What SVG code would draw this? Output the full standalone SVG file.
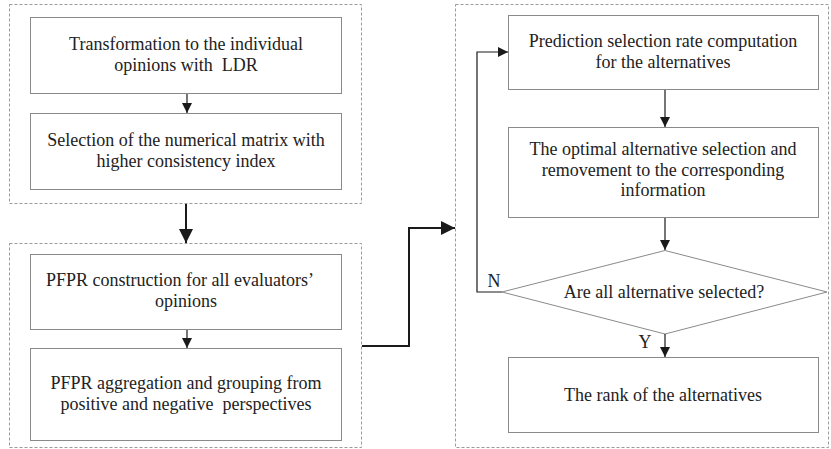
<svg xmlns="http://www.w3.org/2000/svg" width="831" height="449" viewBox="0 0 831 449">
<defs>
<marker id="a" viewBox="0 0 10 10" refX="10" refY="5" markerWidth="10" markerHeight="10" markerUnits="userSpaceOnUse" orient="auto"><path d="M0,0 L10,5 L0,10 z" fill="#1a1a1a"/></marker>
<marker id="b" viewBox="0 0 10 10" refX="10" refY="5" markerWidth="14" markerHeight="14" markerUnits="userSpaceOnUse" orient="auto"><path d="M0,0 L10,5 L0,10 z" fill="#1a1a1a"/></marker>
<style>
.c{fill:none;stroke:#9a9a9a;stroke-width:1;stroke-dasharray:3,2}
.n{fill:#fff;stroke:#8a8a8a;stroke-width:1}
.l{fill:none;stroke:#1a1a1a;stroke-width:1.2}
.k{fill:none;stroke:#1a1a1a;stroke-width:2}
</style>
</defs>
<rect width="831" height="449" fill="#fff"/>
<g id="containers">
<rect class="c" x="9.5" y="4.5" width="352" height="199"/>
<rect class="c" x="9.5" y="243.5" width="352" height="204"/>
<rect class="c" x="455.5" y="4.5" width="373" height="443"/>
</g>
<g font-family="Liberation Serif" font-size="18" fill="#222" text-anchor="middle">
<g id="n1"><rect class="n" x="30.5" y="17.5" width="311" height="76"/>
<text x="186" y="49.5">Transformation to the individual</text><text x="186" y="70.5" xml:space="preserve">opinions with  LDR</text></g>
<g id="n2"><rect class="n" x="30.5" y="113.5" width="311" height="76"/>
<text x="186" y="145.5">Selection of the numerical matrix with</text><text x="186" y="166.5">higher consistency index</text></g>
<g id="n3"><rect class="n" x="30.5" y="254.5" width="311" height="75"/>
<text x="180" y="286">PFPR construction for all evaluators’</text><text x="186" y="307">opinions</text></g>
<g id="n4"><rect class="n" x="30.5" y="348.5" width="311" height="92"/>
<text x="186" y="388.5">PFPR aggregation and grouping from</text><text x="186" y="409.5" xml:space="preserve">positive and negative  perspectives</text></g>
<g id="n5"><rect class="n" x="508.5" y="15.5" width="310" height="74"/>
<text x="663" y="46.5">Prediction selection rate computation</text><text x="663" y="67.5">for the alternatives</text></g>
<g id="n6"><rect class="n" x="508.5" y="127.5" width="310" height="90"/>
<text x="663" y="155">The optimal alternative selection and</text><text x="663" y="175.5">removement to the corresponding</text><text x="663" y="196">information</text></g>
<g id="n7"><path class="n" d="M665,250.5 L827,292 L665,334 L502,292 Z"/>
<text x="664" y="298">Are all alternative selected?</text></g>
<g id="n8"><rect class="n" x="508.5" y="357.5" width="310" height="75"/>
<text x="663" y="401">The rank of the alternatives</text></g>
</g>
<g id="connectors">
<line class="l" x1="187" y1="94" x2="187" y2="113" marker-end="url(#a)"/>
<line class="l" x1="187" y1="330" x2="187" y2="348" marker-end="url(#a)"/>
<line class="k" x1="186" y1="204" x2="186" y2="243" marker-end="url(#b)"/>
<polyline class="k" points="362,346 409,346 409,228 455,228" marker-end="url(#b)"/>
<line class="l" x1="665" y1="90" x2="665" y2="127" marker-end="url(#a)"/>
<line class="l" x1="665" y1="218" x2="665" y2="250" marker-end="url(#a)"/>
<line class="l" x1="665" y1="334" x2="665" y2="357" marker-end="url(#a)"/>
<polyline class="l" points="502,292 477,292 477,52 508,52" marker-end="url(#a)"/>
<text x="494" y="287" font-family="Liberation Serif" font-size="18" fill="#222" text-anchor="middle">N</text>
<text x="645" y="348" font-family="Liberation Serif" font-size="18" fill="#222" text-anchor="middle">Y</text>
</g>
</svg>
